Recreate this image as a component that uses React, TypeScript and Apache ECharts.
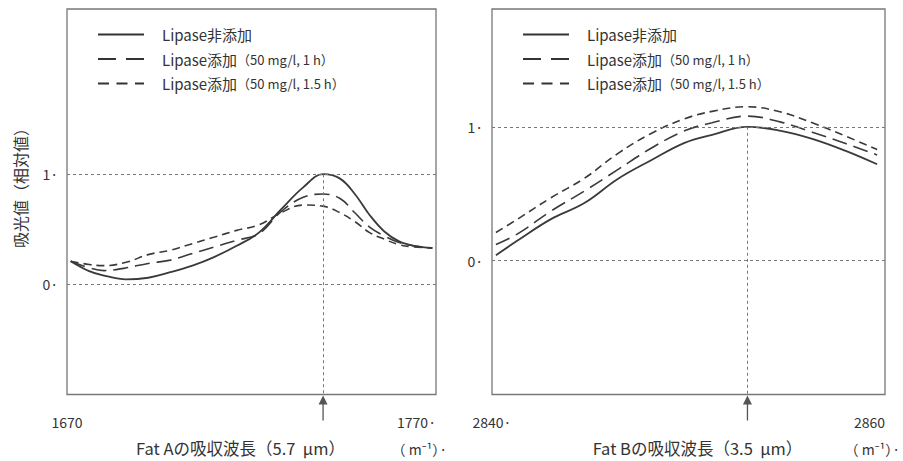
import React, { useEffect, useRef } from "react";
import * as echarts from "echarts";

// ---- Data: Fat A panel ----
const xA = [1671, 1676, 1680, 1686, 1692, 1698, 1704, 1710, 1716, 1722, 1728, 1734, 1739.4, 1744, 1748, 1752, 1756, 1760, 1764, 1769];
const solidA = [0.21, 0.12, 0.08, 0.045, 0.06, 0.11, 0.17, 0.25, 0.35, 0.47, 0.68, 0.88, 1.0, 0.96, 0.82, 0.63, 0.48, 0.39, 0.35, 0.33];
const oneHourA = [0.21, 0.15, 0.125, 0.15, 0.19, 0.22, 0.28, 0.34, 0.4, 0.46, 0.66, 0.79, 0.82, 0.78, 0.65, 0.52, 0.44, 0.38, 0.35, 0.33];
const oneHalfHourA = [0.21, 0.18, 0.17, 0.2, 0.27, 0.31, 0.37, 0.43, 0.49, 0.54, 0.65, 0.72, 0.71, 0.65, 0.57, 0.47, 0.41, 0.36, 0.34, 0.33];
const peakA = 1739.4;

// ---- Data: Fat B panel ----
const xB = [2840.2, 2841.3, 2843, 2844.7, 2846.4, 2848.1, 2849.8, 2851.2, 2853, 2854.7, 2856.3, 2858, 2859.6];
const solidB = [0.04, 0.15, 0.31, 0.43, 0.61, 0.75, 0.88, 0.94, 1.0, 0.97, 0.91, 0.82, 0.72];
const oneHourB = [0.12, 0.2, 0.37, 0.52, 0.68, 0.84, 0.97, 1.03, 1.08, 1.035, 0.96, 0.875, 0.79];
const oneHalfHourB = [0.21, 0.31, 0.47, 0.615, 0.8, 0.95, 1.06, 1.115, 1.15, 1.11, 1.03, 0.93, 0.83];
const peakB = 2853;

// ---- Labels ----
const seriesNames = ["Lipase非添加", "Lipase添加（50 mg/l, 1 h）", "Lipase添加（50 mg/l, 1.5 h）"];
const xTicksA = ["1670", "1770·"];
const xTicksB = ["2840·", "2860"];
const xRangeA = [1670, 1770];
const xRangeB = [2840, 2860];
const yTickLabels = ["0·", "1·"];
const xNameA = "Fat Aの吸収波長（5.7  μm）";
const xNameB = "Fat Bの吸収波長（3.5  μm）";
const unitLabel = "（ m⁻¹）·";
const yName = "吸光値（相対値）";

const FONT = "'Noto Sans CJK JP', 'Noto Sans', sans-serif";
const INK = "#333";
const dashTypes: any[] = ["solid", [15, 7], [8, 5]];
const legendDash: any[] = ["solid", [18, 10], [11, 7.5]];
const widths = [1.8, 1.6, 1.6];

function pairs(xs: number[], ys: number[]) {
  return xs.map((x, i) => [x, ys[i]]);
}

export default function App() {
  const ref = useRef<HTMLDivElement>(null);
  useEffect(() => {
    if (!ref.current) return;
    const chart = echarts.init(ref.current, undefined, { renderer: "svg" });

    const mkSeries = (grid: number, ys: number[][], xs: number[], peak: number) =>
      ys.map((vals, i) => ({
        type: "line",
        name: seriesNames[i],
        xAxisIndex: grid,
        yAxisIndex: grid,
        data: pairs(xs, vals),
        smooth: 0.4,
        symbol: "none",
        lineStyle: { color: "#3a3a3a", width: widths[i], type: dashTypes[i] },
        itemStyle: { color: "#3a3a3a" },
        z: 3,
        markLine:
          i === 0
            ? {
                silent: true,
                symbol: "none",
                label: { show: false },
                lineStyle: { type: [3, 3], color: "#777", width: 1 },
                data: [
                  { yAxis: 1 },
                  { yAxis: 0 },
                  [{ coord: [peak, 1] }, { coord: [peak, -1] }],
                ],
              }
            : undefined,
      }));

    const legendCommon = {
      orient: "vertical",
      top: 22,
      itemWidth: 46,
      itemHeight: 14,
      itemGap: 9.5,
      data: seriesNames.map((n, i) => ({
        name: n,
        lineStyle: { type: legendDash[i], width: 2, color: "#333" },
        itemStyle: { opacity: 0 },
      })),
      itemStyle: { opacity: 0 },
      selectedMode: false,
      formatter: (name: string) => {
        const k = name.indexOf("（");
        if (k < 0) return `{a|${name}}`;
        return `{a|${name.slice(0, k)}}{b|${name.slice(k)}}`;
      },
      textStyle: {
        padding: [0, 0, 0, 13],
        rich: {
          a: { fontSize: 15, color: INK, fontFamily: FONT },
          b: { fontSize: 13, color: INK, fontFamily: FONT },
        },
      },
    };

    const xAxisBase = (grid: number, range: number[], ticks: string[], name: string, pad: number[]) => ({
      type: "value",
      gridIndex: grid,
      min: range[0],
      max: range[1],
      interval: range[1] - range[0],
      axisLine: { show: false },
      axisTick: { show: false },
      splitLine: { show: false },
      axisLabel: {
        margin: 20,
        fontSize: 14,
        color: INK,
        fontFamily: FONT,
        formatter: (v: number) => (v === range[0] ? ticks[0] : ticks[1]),
        alignMinLabel: "center",
        alignMaxLabel: "right",
      },
      name,
      nameLocation: "middle",
      nameGap: 45,
      nameTextStyle: { fontSize: 16.5, color: INK, fontFamily: FONT, padding: pad },
    });

    const yAxisBase = (grid: number, max: number) => ({
      type: "value",
      gridIndex: grid,
      min: -1,
      max,
      interval: 1,
      axisLine: { show: false },
      axisTick: { show: false },
      splitLine: { show: false },
      axisLabel: {
        margin: 9,
        fontSize: 14,
        color: INK,
        fontFamily: FONT,
        formatter: (v: number) => (v === 0 ? yTickLabels[0] : v === 1 ? yTickLabels[1] : ""),
      },
    });

    const option: any = {
      animation: false,
      backgroundColor: "#fff",
      textStyle: { fontFamily: FONT },
      grid: [
        { left: 67, top: 9, width: 369, height: 393, show: true, borderColor: "#777", borderWidth: 1.3, backgroundColor: "transparent" },
        { left: 492, top: 9, width: 393, height: 393, show: true, borderColor: "#777", borderWidth: 1.3, backgroundColor: "transparent" },
      ],
      xAxis: [
        xAxisBase(0, xRangeA, xTicksA, xNameA, [0, 22, 0, 0]),
        xAxisBase(1, xRangeB, xTicksB, xNameB, [0, 0, 0, 18]),
      ],
      yAxis: [yAxisBase(0, 2.5), yAxisBase(1, 1.88)],
      legend: [
        { ...legendCommon, left: 92 },
        { ...legendCommon, left: 517 },
      ],
      series: [
        ...mkSeries(0, [solidA, oneHourA, oneHalfHourA], xA, peakA),
        ...mkSeries(1, [solidB, oneHourB, oneHalfHourB], xB, peakB),
      ],
    };
    chart.setOption(option);

    const arrow = (grid: number, peak: number) => {
      const p = chart.convertToPixel({ gridIndex: grid } as any, [peak, -1]) as number[];
      const x = p[0];
      const y = p[1];
      return [
        { type: "line", shape: { x1: x, y1: y + 8, x2: x, y2: y + 26 }, style: { stroke: "#555", lineWidth: 1.3 } },
        { type: "polygon", shape: { points: [[x, y + 1], [x - 4.5, y + 10], [x + 4.5, y + 10]] }, style: { fill: "#555" } },
      ];
    };

    chart.setOption({
      graphic: [
        ...arrow(0, peakA),
        ...arrow(1, peakB),
        { type: "text", x: 447, y: 449, style: { text: unitLabel, align: "right", verticalAlign: "middle", fontSize: 14, fill: INK, fontFamily: FONT } },
        { type: "text", x: 900, y: 449, style: { text: unitLabel, align: "right", verticalAlign: "middle", fontSize: 14, fill: INK, fontFamily: FONT } },
        { type: "text", x: 20, y: 184, rotation: Math.PI / 2, style: { text: yName, align: "center", verticalAlign: "middle", fontSize: 16, fill: INK, fontFamily: FONT } },
      ],
    });

    return () => chart.dispose();
  }, []);
  return <div ref={ref} style={{ position: "fixed", left: 0, top: 0, width: 903, height: 461 }} />;
}
